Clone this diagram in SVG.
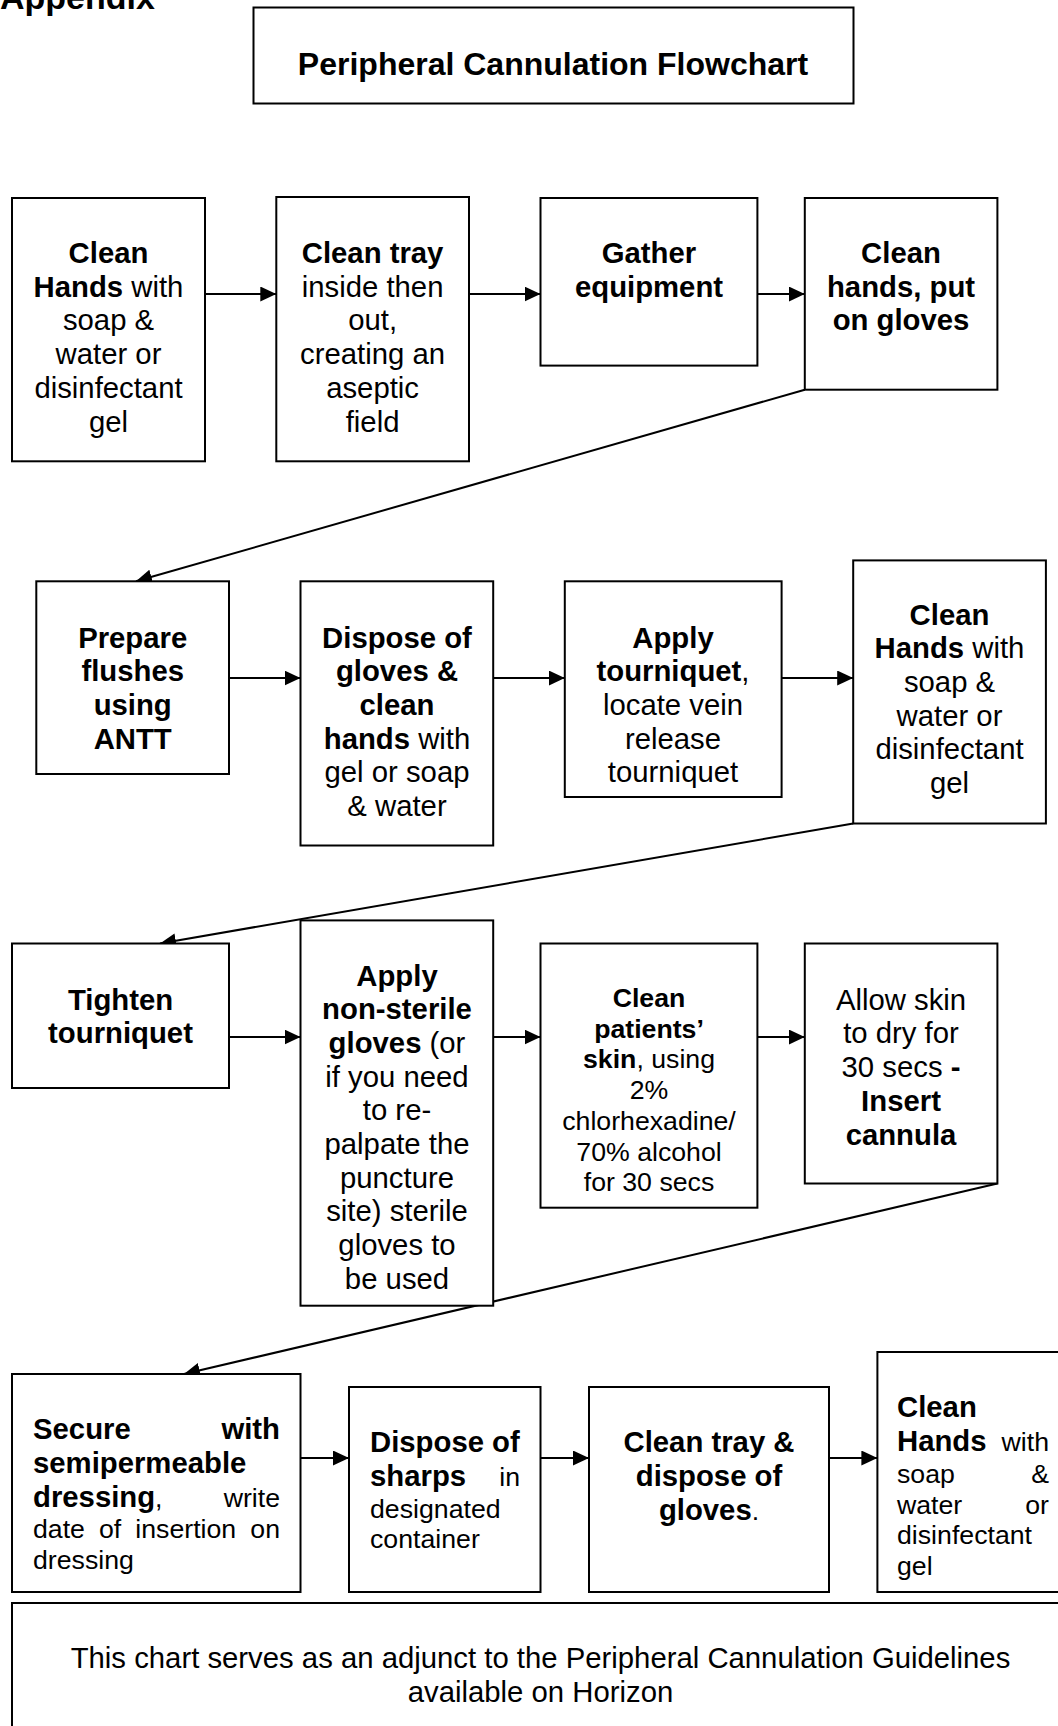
<svg xmlns="http://www.w3.org/2000/svg" width="1058" height="1726" viewBox="0 0 1058 1726">
<defs>
<style>
.box{fill:#fff;stroke:#000;stroke-width:2}
text{font-family:"Liberation Sans",Arial,Helvetica,sans-serif;font-size:29.3px;fill:#000}
.c{text-anchor:middle}
.e{text-anchor:end}
.b{font-weight:bold}
.s{font-size:26.7px}
.conn line{stroke:#000;stroke-width:2;fill:none}
</style>
<marker id="ah" markerUnits="userSpaceOnUse" markerWidth="17" markerHeight="16" refX="16" refY="7.5" orient="auto">
<path d="M0,0 L16,7.5 L0,15 z" fill="#000"/>
</marker>
</defs>
<rect width="1058" height="1726" fill="#fff"/>

<text class="b" x="0" y="8.5" style="font-size:34px">Appendix</text>

<g id="title">
<rect class="box" x="253.5" y="7.5" width="600" height="96"/>
<text class="c b" x="553" y="75" style="font-size:32px">Peripheral Cannulation Flowchart</text>
</g>

<g class="conn" id="connectors">
<line x1="205" y1="294" x2="276.3" y2="294" marker-end="url(#ah)"/>
<line x1="469" y1="294" x2="540.5" y2="294" marker-end="url(#ah)"/>
<line x1="757.4" y1="294" x2="804.8" y2="294" marker-end="url(#ah)"/>
<line x1="804.8" y1="389.7" x2="136" y2="581.3" marker-end="url(#ah)"/>
<line x1="229" y1="678" x2="300.5" y2="678" marker-end="url(#ah)"/>
<line x1="493.2" y1="678" x2="564.8" y2="678" marker-end="url(#ah)"/>
<line x1="781.6" y1="678" x2="853.2" y2="678" marker-end="url(#ah)"/>
<line x1="853.2" y1="823.5" x2="160" y2="943.5" marker-end="url(#ah)"/>
<line x1="229" y1="1037" x2="300.5" y2="1037" marker-end="url(#ah)"/>
<line x1="493.2" y1="1037" x2="540.5" y2="1037" marker-end="url(#ah)"/>
<line x1="757.4" y1="1037" x2="804.8" y2="1037" marker-end="url(#ah)"/>
<line x1="997.4" y1="1183.5" x2="184" y2="1374" marker-end="url(#ah)"/>
<line x1="300.5" y1="1458" x2="349" y2="1458" marker-end="url(#ah)"/>
<line x1="540.5" y1="1458" x2="589" y2="1458" marker-end="url(#ah)"/>
<line x1="829" y1="1458" x2="877.4" y2="1458" marker-end="url(#ah)"/>
</g>

<g id="n1">
<rect class="box" x="12" y="198" width="193" height="263.3"/>
<text class="c" x="108.5" y="263"><tspan class="b">Clean</tspan></text>
<text class="c" x="108.5" y="296.7"><tspan class="b">Hands</tspan> with</text>
<text class="c" x="108.5" y="330.4">soap &amp;</text>
<text class="c" x="108.5" y="364.1">water or</text>
<text class="c" x="108.5" y="397.8">disinfectant</text>
<text class="c" x="108.5" y="431.5">gel</text>
</g>

<g id="n2">
<rect class="box" x="276.3" y="197" width="192.7" height="264.3"/>
<text class="c b" x="372.6" y="263">Clean tray</text>
<text class="c" x="372.6" y="296.7">inside then</text>
<text class="c" x="372.6" y="330.4">out,</text>
<text class="c" x="372.6" y="364.1">creating an</text>
<text class="c" x="372.6" y="397.8">aseptic</text>
<text class="c" x="372.6" y="431.5">field</text>
</g>

<g id="n3">
<rect class="box" x="540.5" y="198" width="216.9" height="167.6"/>
<text class="c b" x="649" y="263">Gather</text>
<text class="c b" x="649" y="296.7">equipment</text>
</g>

<g id="n4">
<rect class="box" x="804.8" y="198" width="192.6" height="191.7"/>
<text class="c b" x="901" y="263">Clean</text>
<text class="c b" x="901" y="296.7">hands, put</text>
<text class="c b" x="901" y="330.4">on gloves</text>
</g>

<g id="n5">
<rect class="box" x="36.3" y="581.3" width="192.7" height="192.7"/>
<text class="c b" x="132.7" y="647.5">Prepare</text>
<text class="c b" x="132.7" y="681.2">flushes</text>
<text class="c b" x="132.7" y="714.9">using</text>
<text class="c b" x="132.7" y="748.6">ANTT</text>
</g>

<g id="n6">
<rect class="box" x="300.5" y="581.3" width="192.7" height="264.2"/>
<text class="c b" x="397" y="647.5">Dispose of</text>
<text class="c b" x="397" y="681.2">gloves &amp;</text>
<text class="c b" x="397" y="714.9">clean</text>
<text class="c" x="397" y="748.6"><tspan class="b">hands</tspan> with</text>
<text class="c" x="397" y="782.3">gel or soap</text>
<text class="c" x="397" y="816">&amp; water</text>
</g>

<g id="n7">
<rect class="box" x="564.8" y="581.3" width="216.8" height="215.7"/>
<text class="c b" x="673" y="647.5">Apply</text>
<text class="c" x="673" y="681.2"><tspan class="b">tourniquet</tspan>,</text>
<text class="c" x="673" y="714.9">locate vein</text>
<text class="c" x="673" y="748.6">release</text>
<text class="c" x="673" y="782.3">tourniquet</text>
</g>

<g id="n8">
<rect class="box" x="853.2" y="560.4" width="192.7" height="263.1"/>
<text class="c b" x="949.5" y="624.5">Clean</text>
<text class="c" x="949.5" y="658.2"><tspan class="b">Hands</tspan> with</text>
<text class="c" x="949.5" y="691.9">soap &amp;</text>
<text class="c" x="949.5" y="725.6">water or</text>
<text class="c" x="949.5" y="759.3">disinfectant</text>
<text class="c" x="949.5" y="793">gel</text>
</g>

<g id="n9">
<rect class="box" x="12" y="943.5" width="217" height="144.5"/>
<text class="c b" x="120.5" y="1009.7">Tighten</text>
<text class="c b" x="120.5" y="1043.4">tourniquet</text>
</g>

<g id="n10">
<rect class="box" x="300.5" y="920.4" width="192.7" height="385.3"/>
<text class="c b" x="397" y="985.5">Apply</text>
<text class="c b" x="397" y="1019.2">non-sterile</text>
<text class="c" x="397" y="1052.9"><tspan class="b">gloves</tspan> (or</text>
<text class="c" x="397" y="1086.6">if you need</text>
<text class="c" x="397" y="1120.3">to re-</text>
<text class="c" x="397" y="1154">palpate the</text>
<text class="c" x="397" y="1187.7">puncture</text>
<text class="c" x="397" y="1221.4">site) sterile</text>
<text class="c" x="397" y="1255.1">gloves to</text>
<text class="c" x="397" y="1288.8">be used</text>
</g>

<g id="n11">
<rect class="box" x="540.5" y="943.5" width="216.9" height="264.2"/>
<text class="c b s" x="649" y="1007">Clean</text>
<text class="c b s" x="649" y="1037.7">patients’</text>
<text class="c s" x="649" y="1068.4"><tspan class="b">skin</tspan>, using</text>
<text class="c s" x="649" y="1099.1">2%</text>
<text class="c s" x="649" y="1129.8">chlorhexadine/</text>
<text class="c s" x="649" y="1160.5">70% alcohol</text>
<text class="c s" x="649" y="1191.2">for 30 secs</text>
</g>

<g id="n12">
<rect class="box" x="804.8" y="943.5" width="192.6" height="240"/>
<text class="c" x="901" y="1009.7">Allow skin</text>
<text class="c" x="901" y="1043.4">to dry for</text>
<text class="c" x="901" y="1077.1">30 secs <tspan class="b">-</tspan></text>
<text class="c b" x="901" y="1110.8">Insert</text>
<text class="c b" x="901" y="1144.5">cannula</text>
</g>

<g id="n13">
<rect class="box" x="12" y="1374" width="288.5" height="218"/>
<text class="b" x="33" y="1439">Secure</text>
<text class="b e" x="280" y="1439">with</text>
<text class="b" x="33" y="1473">semipermeable</text>
<text x="33" y="1507"><tspan class="b">dressing</tspan><tspan class="s">,</tspan></text>
<text class="s e" x="280" y="1507">write</text>
<text class="s" x="33" y="1538">date</text>
<text class="s" x="99" y="1538">of</text>
<text class="s" x="135.3" y="1538">insertion</text>
<text class="s e" x="280" y="1538">on</text>
<text class="s" x="33" y="1569">dressing</text>
</g>

<g id="n14">
<rect class="box" x="349" y="1387" width="191.5" height="205"/>
<text class="b" x="370" y="1452">Dispose of</text>
<text class="b" x="370" y="1486">sharps</text>
<text class="s e" x="520" y="1486">in</text>
<text class="s" x="370" y="1517.5">designated</text>
<text class="s" x="370" y="1547.5">container</text>
</g>

<g id="n15">
<rect class="box" x="589" y="1387" width="240" height="205"/>
<text class="c b" x="709" y="1452">Clean tray &amp;</text>
<text class="c b" x="709" y="1486">dispose of</text>
<text class="c" x="709" y="1520"><tspan class="b">gloves</tspan><tspan class="s">.</tspan></text>
</g>

<g id="n16">
<rect class="box" x="877.4" y="1352" width="190" height="240"/>
<text class="b" x="897" y="1417">Clean</text>
<text class="b" x="897" y="1451">Hands</text>
<text class="s e" x="1049" y="1451">with</text>
<text class="s" x="897" y="1482.5">soap</text>
<text class="s e" x="1049" y="1482.5">&amp;</text>
<text class="s" x="897" y="1513.5">water</text>
<text class="s e" x="1049" y="1513.5">or</text>
<text class="s" x="897" y="1544">disinfectant</text>
<text class="s" x="897" y="1575">gel</text>
</g>

<g id="note">
<rect class="box" x="12" y="1603" width="1060" height="140"/>
<text class="c" x="540.5" y="1668">This chart serves as an adjunct to the Peripheral Cannulation Guidelines</text>
<text class="c" x="540.5" y="1702">available on Horizon</text>
</g>
</svg>
